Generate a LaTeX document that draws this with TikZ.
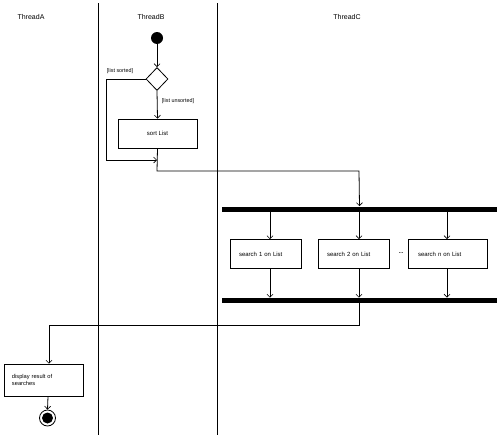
\documentclass[tikz,border=0pt]{standalone}
\usepackage{fontspec}
\setmainfont{Liberation Sans}
\usetikzlibrary{arrows.meta,shapes.geometric}
\begin{document}
\begin{tikzpicture}[x=1pt,y=-1pt,
  line width=0.8pt,
  arr/.style={-{Straight Barb[length=3pt,width=6pt,line width=0.6pt]}},
  act/.style={draw,rectangle,minimum height=29pt,inner xsep=9pt,align=left,font=\fontsize{6}{7}\selectfont},
  lbl/.style={font=\fontsize{5.4}{6.4}\selectfont,inner sep=0pt},
  hdr/.style={font=\fontsize{7}{8}\selectfont,inner sep=0pt},
  bar/.style={fill=black,draw=none,rectangle,minimum width=275pt,minimum height=5pt,inner sep=0pt}]
\useasboundingbox (0,0) rectangle (500,439);
% swimlanes
\draw (98,3) -- (98,435);
\draw (217,3) -- (217,435);
\node[hdr] (hA) at (31,17) {ThreadA};
\node[hdr] (hB) at (151,17) {ThreadB};
\node[hdr] (hC) at (347,17) {ThreadC};
% start
\node[circle,fill=black,minimum size=12pt,inner sep=0pt] (start) at (157,38) {};
\node[diamond,draw,minimum width=22pt,minimum height=23pt,inner sep=0pt] (dec) at (157,79) {};
\draw[arr] (start) -- (dec.north);
\node[lbl] (ls) at (120,71) {[list sorted]};
\node[lbl] (lu) at (178,101) {[list unsorted]};
\node[act,minimum width=79pt,align=center] (sort) at (157.5,133.5) {sort List};
\draw[arr] (dec.south) -- (sort.north);
\coordinate (merge) at (157,160);
\draw[arr] (dec.west) -- (106,79) -- (106,160) -- (merge);
% to fork
\node[bar] (fork) at (359.5,209) {};
\draw[arr] (sort.south) -- (157,171) -- (359,171) -- (fork.north);
% search boxes
\coordinate (c1) at (270,0);
\coordinate (c2) at (359,0);
\coordinate (c3) at (447,0);
\node[act,text width=53pt] (s1) at (265.5,254) {search 1 on List};
\node[act,text width=53pt] (s2) at (353.5,254) {search 2 on List};
\node[act,text width=59pt,inner xsep=10pt] (s3) at (447.5,254) {search n on List};
\node[lbl,font=\bfseries\fontsize{5.4}{6.4}\selectfont] (dots) at (401,253) {...};
\node[bar] (join) at (359.5,300.5) {};
\foreach \s/\c in {s1/c1,s2/c2,s3/c3}{
  \draw[arr] (fork.south -| \c) -- (\s.north -| \c);
  \draw[arr] (\s.south -| \c) -- (join.north -| \c);
}
% display
\node[act,minimum width=79pt,minimum height=32pt,text width=63pt,inner xsep=8pt,font=\fontsize{5.7}{7}\selectfont] (disp) at (43.5,380) {display result of\\searches};
\draw[arr] (join.south -| c2) -- (359,325) -- (49,325) -- (disp.north -| 49,0);
% end
\node[circle,draw,minimum size=16pt,inner sep=0pt,line width=0.8pt] (end) at (47.5,418) {};
\fill (end.center) circle (5.5pt);
\draw[arr] (disp.south -| 48,0) -- (end.north);
\end{tikzpicture}
\end{document}
